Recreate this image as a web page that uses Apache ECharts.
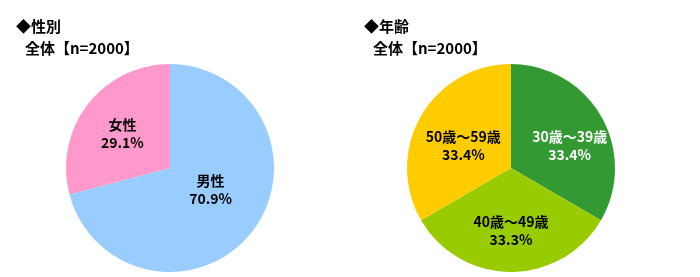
<!DOCTYPE html>
<html><head><meta charset="utf-8">
<script src="https://cdn.jsdelivr.net/npm/echarts@6/dist/echarts.min.js"></script>
<style>html,body{margin:0;padding:0;background:#fff}#c{width:700px;height:277px}</style>
</head><body><div id="c"></div>
<script>
const genderCategories = ['男性', '女性'];
const genderValues = [70.9, 29.1];
const genderColors = ['#99CCFF', '#FF99CC'];
const ageCategories = ['30歳～39歳', '40歳～49歳', '50歳～59歳'];
const ageValues = [33.4, 33.3, 33.4];
const ageColors = ['#339933', '#99CC00', '#FFCC00'];
const ageLabelColors = ['#ffffff', '#000000', '#000000'];
const titles = [['◆性別', '全体【n=2000】'], ['◆年齢', '全体【n=2000】']];

// label nudges (style only)
const genderLabelShift = [[-3, -12], [-4, -1]];
const ageLabelShift = [[11, 5], [0, 8], [0, 5]];

const font = '"Noto Sans CJK JP", "Noto Sans", sans-serif';
const chart = echarts.init(document.getElementById('c'), null, {renderer: 'canvas'});
const titleStyle = {fontFamily: font, fontWeight: 'bold', fontSize: 15, color: '#000'};
const fmt = p => p.name + '\n' + p.value.toFixed(1) + '%';
chart.setOption({
  animation: false,
  title: [
    {text: titles[0][0], left: 11, top: 14, textStyle: titleStyle},
    {text: titles[0][1], left: 20, top: 36, textStyle: titleStyle},
    {text: titles[1][0], left: 359, top: 14, textStyle: titleStyle},
    {text: titles[1][1], left: 368, top: 36, textStyle: titleStyle}
  ],
  series: [
    {
      type: 'pie', center: [170, 168], radius: [0, 104], startAngle: 90, clockwise: true,
      label: {position: 'inside', fontFamily: font, fontWeight: 'bold', fontSize: 14, color: '#000', lineHeight: 18, formatter: fmt},
      labelLayout: p => ({dx: genderLabelShift[p.dataIndex][0], dy: genderLabelShift[p.dataIndex][1]}),
      data: genderCategories.map((n, i) => ({name: n, value: genderValues[i], itemStyle: {color: genderColors[i]}}))
    },
    {
      type: 'pie', center: [511, 168], radius: [0, 104], startAngle: 90, clockwise: true,
      label: {position: 'inside', fontFamily: font, fontWeight: 'bold', fontSize: 14, lineHeight: 18, formatter: fmt},
      labelLayout: p => ({dx: ageLabelShift[p.dataIndex][0], dy: ageLabelShift[p.dataIndex][1]}),
      data: ageCategories.map((n, i) => ({name: n, value: ageValues[i], itemStyle: {color: ageColors[i]}, label: {color: ageLabelColors[i]}}))
    }
  ]
});
</script></body></html>
